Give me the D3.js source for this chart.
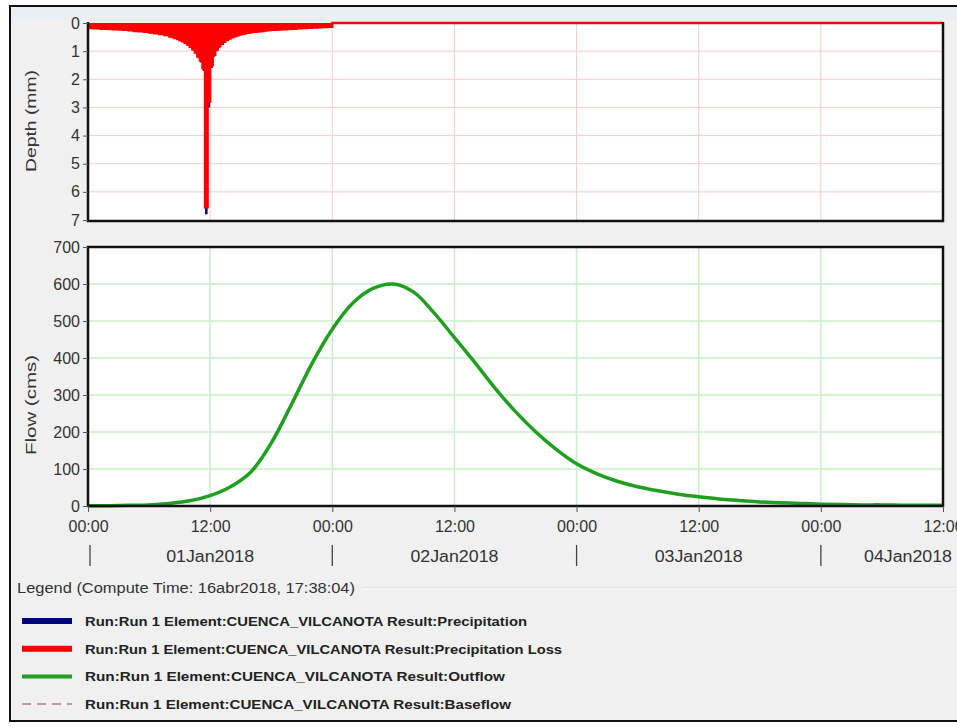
<!DOCTYPE html>
<html>
<head>
<meta charset="utf-8">
<script src="https://cdn.jsdelivr.net/npm/d3@7"></script>
<style>
  body { margin: 0; background: #fff; }
  svg { display: block; font-family: "Liberation Sans", Arial, sans-serif; }
</style>
</head>
<body>
<div id="chart"></div>
<script>
// precipitation hyetograph, 15 min steps from 01Jan2018 00:00 (mm)
var precipDepth = [
  0.18,0.18,0.19,0.19,0.19,0.20,0.20,0.20,
  0.21,0.21,0.22,0.22,0.23,0.23,0.24,0.24,
  0.26,0.26,0.28,0.28,0.30,0.30,0.32,0.32,
  0.35,0.35,0.38,0.38,0.41,0.41,0.45,0.45,
  0.50,0.52,0.56,0.60,0.64,0.68,0.74,0.80,
  0.88,0.98,1.10,1.25,1.40,1.70,6.80,3.00,
  1.60,1.20,1.00,0.88,0.78,0.70,0.64,0.58,
  0.54,0.50,0.47,0.44,0.42,0.40,0.38,0.36,
  0.34,0.33,0.32,0.31,0.30,0.29,0.28,0.27,
  0.26,0.26,0.25,0.25,0.24,0.24,0.23,0.23,
  0.22,0.22,0.21,0.21,0.20,0.20,0.19,0.19,
  0.18,0.18,0.17,0.17,0.16,0.16,0.15,0.15];
var lossDepth = [
  0.18,0.18,0.19,0.19,0.19,0.20,0.20,0.20,
  0.21,0.21,0.22,0.22,0.23,0.23,0.24,0.24,
  0.26,0.26,0.28,0.28,0.29,0.29,0.31,0.31,
  0.34,0.34,0.36,0.36,0.39,0.39,0.43,0.43,
  0.48,0.50,0.53,0.57,0.61,0.65,0.70,0.76,
  0.84,0.93,1.05,1.19,1.33,1.60,6.55,2.80,
  1.50,1.13,0.94,0.83,0.74,0.66,0.60,0.55,
  0.51,0.47,0.44,0.41,0.39,0.37,0.35,0.34,
  0.32,0.31,0.30,0.29,0.28,0.27,0.26,0.25,
  0.24,0.24,0.23,0.23,0.22,0.22,0.21,0.21,
  0.20,0.20,0.19,0.19,0.18,0.18,0.17,0.17,
  0.16,0.16,0.15,0.15,0.14,0.14,0.13,0.13];
var precipStepHours = 0.25;

// outflow hydrograph, every 2 hours (cms)
var outflow = [1,1,2,3,7,14,28,52,92,170,275,385,478,548,588,600,578,522,455,388,
  318,255,200,153,114,87,67,52,41,32,25,19,15,11,9,7,5,4,3,3,2,2,2];
var outflowStepHours = 2;
// baseflow, every 12 hours (cms)
var baseflow = [0,0,0,0,0,0,0,0];
var baseflowStepHours = 12;

var depthTicks = [0,1,2,3,4,5,6,7];
var flowTicks = [0,100,200,300,400,500,600,700];
var dayLabels = ["01Jan2018","02Jan2018","03Jan2018","04Jan2018"];

var legendTitle = "Legend (Compute Time: 16abr2018, 17:38:04)";
var legendNames = [
  "Run:Run 1 Element:CUENCA_VILCANOTA Result:Precipitation",
  "Run:Run 1 Element:CUENCA_VILCANOTA Result:Precipitation Loss",
  "Run:Run 1 Element:CUENCA_VILCANOTA Result:Outflow",
  "Run:Run 1 Element:CUENCA_VILCANOTA Result:Baseflow"];
var legendColors = ["#000080","#ff0000","#1f9e1f","#c49a9a"];
var legendTextWidths = [442, 477, 420, 426];

var width = 957, height = 727;
var start = new Date(Date.UTC(2018,0,1,0));
var end = new Date(Date.UTC(2018,0,4,12));
var hrs = h => new Date(start.getTime() + h*3600000);

var svg = d3.select("#chart").append("svg")
    .attr("width", width).attr("height", height)
    .attr("viewBox", [0, 0, width, height]);

// panel
svg.append("rect").attr("x",10).attr("y",6).attr("width",width).attr("height",715)
  .attr("fill","#f0f0f0").attr("stroke","#111").attr("stroke-width",2);
svg.append("rect").attr("x",11).attr("y",7).attr("width",width).attr("height",14)
  .attr("fill","#e9eff2");

var x = d3.scaleUtc().domain([start, end]).range([88, 943]);
var yD = d3.scaleLinear().domain([0,7]).range([23, 220]);
var yF = d3.scaleLinear().domain([0,700]).range([506, 247]);
var xTicks = x.ticks(d3.utcHour.every(12));

function styleTicks(g) {
  g.select(".domain").remove();
  g.selectAll("text").attr("font-size",16).attr("fill","#333")
    .attr("font-family","Liberation Sans, Arial");
  g.selectAll("line").attr("stroke","#555");
}

// ---- top plot: depth
svg.append("rect").attr("x",88).attr("y",23).attr("width",855).attr("height",197).attr("fill","#fff");
svg.append("g").selectAll("line").data(depthTicks.slice(1,-1)).join("line")
  .attr("x1",88).attr("x2",943).attr("y1",d=>yD(d)).attr("y2",d=>yD(d))
  .attr("stroke","#f5cccc").attr("stroke-width",1);
svg.append("g").selectAll("line").data(xTicks.slice(1,-1)).join("line")
  .attr("x1",d=>x(d)).attr("x2",d=>x(d)).attr("y1",23).attr("y2",220)
  .attr("stroke","#f5cccc").attr("stroke-width",1);

var precipSteps = precipDepth.map((v,i) => ({t: hrs(i*precipStepHours), v: v}));
precipSteps.push({t: hrs(precipDepth.length*precipStepHours), v: 0});
var lossSteps = lossDepth.map((v,i) => ({t: hrs(i*precipStepHours), v: v}));
lossSteps.push({t: hrs(lossDepth.length*precipStepHours), v: 0});
lossSteps.push({t: end, v: 0});

var stepArea = d3.area().curve(d3.curveStepAfter)
  .x(d => x(d.t)).y0(yD(0)).y1(d => yD(d.v));
svg.append("path").datum(precipSteps).attr("fill","#000080").attr("d", stepArea);
svg.append("path").datum(lossSteps).attr("fill","#ff0000").attr("d", stepArea);
svg.append("path").datum(lossSteps).attr("fill","none").attr("stroke","#ff0000")
  .attr("stroke-width",2.5)
  .attr("d", d3.line().curve(d3.curveStepAfter).x(d=>x(d.t)).y(d=>yD(d.v)));

svg.append("path").attr("fill","none").attr("stroke","#111").attr("stroke-width",2.5)
  .attr("d", `M88,22V221H943V22`);
svg.append("g").attr("transform","translate(88,0)")
  .call(d3.axisLeft(yD).tickValues(depthTicks).tickSize(5).tickFormat(d3.format("d")))
  .call(styleTicks);
svg.append("text").attr("transform","translate(36,121) rotate(-90)")
  .attr("text-anchor","middle").attr("font-size",15).attr("fill","#333")
  .attr("textLength",102).attr("lengthAdjust","spacingAndGlyphs").text("Depth (mm)");

// ---- bottom plot: flow
svg.append("rect").attr("x",88).attr("y",247).attr("width",855).attr("height",259).attr("fill","#fff");
svg.append("g").selectAll("line").data(flowTicks.slice(1,-1)).join("line")
  .attr("x1",88).attr("x2",943).attr("y1",d=>yF(d)).attr("y2",d=>yF(d))
  .attr("stroke","#c9efc9").attr("stroke-width",1.5);
svg.append("g").selectAll("line").data(xTicks.slice(1,-1)).join("line")
  .attr("x1",d=>x(d)).attr("x2",d=>x(d)).attr("y1",247).attr("y2",506)
  .attr("stroke","#c9efc9").attr("stroke-width",1.5);

svg.append("path").datum(baseflow).attr("fill","none").attr("stroke","#b07878")
  .attr("stroke-width",2).attr("stroke-dasharray","8,5")
  .attr("d", d3.line().x((d,i)=>x(hrs(i*baseflowStepHours))).y(d=>yF(d)));
svg.append("path").datum(outflow).attr("fill","none").attr("stroke","#1f9e1f")
  .attr("stroke-width",3.5).attr("stroke-linejoin","round")
  .attr("d", d3.line().curve(d3.curveCatmullRom.alpha(0.5))
    .x((d,i)=>x(hrs(i*outflowStepHours))).y(d=>yF(d)));

svg.append("rect").attr("x",88).attr("y",247).attr("width",855).attr("height",259)
  .attr("fill","none").attr("stroke","#111").attr("stroke-width",2.5);
svg.append("g").attr("transform","translate(88,0)")
  .call(d3.axisLeft(yF).tickValues(flowTicks).tickSize(5))
  .call(styleTicks);
svg.append("text").attr("transform","translate(36,405) rotate(-90)")
  .attr("text-anchor","middle").attr("font-size",15).attr("fill","#333")
  .attr("textLength",100).attr("lengthAdjust","spacingAndGlyphs").text("Flow (cms)");

svg.append("g").attr("transform","translate(0,506)")
  .call(d3.axisBottom(x).tickValues(xTicks).tickSize(6).tickPadding(9)
    .tickFormat(d3.utcFormat("%H:%M")))
  .call(styleTicks);

// day separators and labels
var days = x.ticks(d3.utcDay.every(1));
svg.append("g").selectAll("line").data(days.slice(0,4)).join("line")
  .attr("x1",(d,i)=>x(d)+(i?0:2)).attr("x2",(d,i)=>x(d)+(i?0:2))
  .attr("y1",545).attr("y2",566).attr("stroke","#444").attr("stroke-width",1.3);
svg.append("g").selectAll("text").data(dayLabels).join("text")
  .attr("x",(d,i)=>Math.min(x(hrs(i*24+12)), 908))
  .attr("y",562).attr("text-anchor","middle").attr("font-size",16).attr("fill","#333")
  .attr("textLength",88).attr("lengthAdjust","spacingAndGlyphs")
  .text(d=>d);

// legend
svg.append("text").attr("x",17).attr("y",593).attr("font-size",14).attr("fill","#333")
  .attr("textLength",338).attr("lengthAdjust","spacingAndGlyphs")
  .text(legendTitle);
svg.append("line").attr("x1",362).attr("x2",width).attr("y1",588).attr("y2",588)
  .attr("stroke","#d6d6d6");
svg.append("line").attr("x1",362).attr("x2",width).attr("y1",589).attr("y2",589)
  .attr("stroke","#fff");
var leg = svg.append("g").selectAll("g").data(legendNames).join("g")
  .attr("transform",(d,i)=>`translate(22,${621 + i*27.7})`);
leg.append("line").attr("x1",0).attr("x2",50).attr("y1",0).attr("y2",0)
  .attr("stroke",(d,i)=>legendColors[i])
  .attr("stroke-width",(d,i)=>i<2 ? 6 : (i==2 ? 4 : 2))
  .attr("stroke-dasharray",(d,i)=>i==3 ? "9,6" : null);
leg.append("text").attr("x",63).attr("y",5).attr("font-size",12).attr("font-weight","bold")
  .attr("fill","#222")
  .attr("textLength",(d,i)=>legendTextWidths[i]).attr("lengthAdjust","spacingAndGlyphs")
  .text(d=>d);
</script>
</body>
</html>
